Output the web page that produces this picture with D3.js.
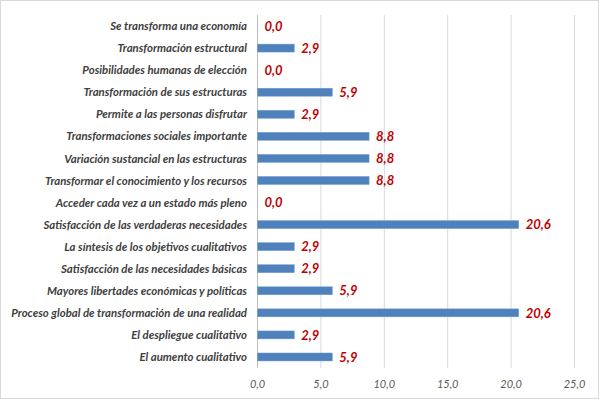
<!DOCTYPE html>
<html><head><meta charset="utf-8">
<script src="https://cdn.jsdelivr.net/npm/d3@7"></script>
<style>body{margin:0;background:#fff}</style>
</head><body>
<svg id="c" width="599" height="399"></svg>
<script>
const categories = [
 "Se transforma una economía",
 "Transformación estructural",
 "Posibilidades humanas de elección",
 "Transformación de sus estructuras",
 "Permite a las personas disfrutar",
 "Transformaciones sociales importante",
 "Variación sustancial en las estructuras",
 "Transformar el conocimiento y los recursos",
 "Acceder cada vez a un estado más pleno",
 "Satisfacción de las verdaderas necesidades",
 "La síntesis de los objetivos cualitativos",
 "Satisfacción de las necesidades básicas",
 "Mayores libertades económicas y políticas",
 "Proceso global de transformación de una realidad",
 "El despliegue cualitativo",
 "El aumento cualitativo"
];
const values = [0, 2.9, 0, 5.9, 2.9, 8.8, 8.8, 8.8, 0, 20.6, 2.9, 2.9, 5.9, 20.6, 2.9, 5.9];
const xTicks = [0, 5, 10, 15, 20, 25];

const svg = d3.select("#c");
const fmt = v => d3.format(".1f")(v).replace(".", ",");
const font = "Lato, 'Open Sans', sans-serif";

svg.append("rect").attr("x",0.5).attr("y",0.5).attr("width",598).attr("height",398)
  .attr("fill","#fff").attr("stroke","#d9d9d9");

const x = d3.scaleLinear().domain([0,25]).range([257.5,574.5]);
const y = d3.scaleBand().domain(categories).range([15,368]).paddingInner(0.64).paddingOuter(0.32);

svg.append("g").selectAll("line").data(xTicks.slice(1)).join("line")
  .attr("x1",d=>x(d)).attr("x2",d=>x(d)).attr("y1",15).attr("y2",368)
  .attr("stroke","#d9d9d9").attr("stroke-width",1);

svg.append("line").attr("x1",x(0)).attr("x2",x(0)).attr("y1",15).attr("y2",368)
  .attr("stroke","#bfbfbf");

svg.append("g").selectAll("rect").data(values).join("rect")
  .attr("x",x(0)).attr("y",(d,i)=>y(categories[i]))
  .attr("width",d=>x(d)-x(0)).attr("height",y.bandwidth())
  .attr("fill","#4f81bd").attr("stroke","#6f9bd0").attr("stroke-width",0.5);

svg.append("g").selectAll("text").data(values).join("text")
  .attr("x",d=>x(d)+7).attr("y",(d,i)=>y(categories[i])+y.bandwidth()/2)
  .attr("dy","0.36em").attr("fill","#c00000").attr("font-family",font)
  .attr("font-size",13).attr("font-weight","bold").attr("font-style","italic")
  .text(d=>fmt(d));

svg.append("g").selectAll("text").data(categories).join("text")
  .attr("x",247).attr("y",d=>y(d)+y.bandwidth()/2).attr("dy","0.36em")
  .attr("text-anchor","end").attr("fill","#404040").attr("font-family",font)
  .attr("font-size",11.4).attr("font-weight","bold").attr("font-style","italic")
  .text(d=>d);

svg.append("g").selectAll("text").data(xTicks).join("text")
  .attr("x",d=>x(d)).attr("y",384).attr("dy","0.36em")
  .attr("text-anchor","middle").attr("fill","#595959").attr("font-family",font)
  .attr("font-size",11).attr("font-style","italic")
  .text(d=>fmt(d));
</script>
</body></html>
